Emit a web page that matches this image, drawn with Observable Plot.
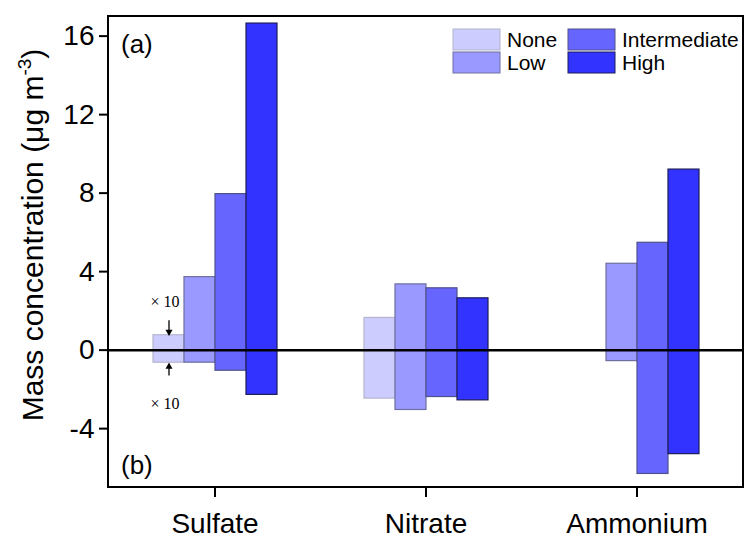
<!DOCTYPE html>
<html>
<head>
<meta charset="utf-8">
<script src="https://cdn.jsdelivr.net/npm/d3@7"></script>
<script src="https://cdn.jsdelivr.net/npm/@observablehq/plot@0.6"></script>
<style>
  html, body { margin: 0; padding: 0; background: white; }
  #chart svg [aria-label^="y-axis"] line, #chart svg [aria-label^="y-axis"] path,
  #chart svg [aria-label^="fx-axis"] line, #chart svg [aria-label^="fx-axis"] path { stroke-width: 2px; }
</style>
</head>
<body>
<div id="chart"></div>
<script>
// ---- data ----
const categories = ["Sulfate", "Nitrate", "Ammonium"];
const levels = ["None", "Low", "Intermediate", "High"];
// positive part (top of bar), per level, per category (None for Sulfate drawn ×10)
const posNone = [0.76, 1.64, 0];
const posLow = [3.72, 3.35, 4.40];
const posIntermediate = [7.95, 3.15, 5.47];
const posHigh = [16.64, 2.64, 9.20];
// negative part (bottom of bar)
const negNone = [-0.64, -2.47, 0];
const negLow = [-0.64, -3.05, -0.56];
const negIntermediate = [-1.05, -2.39, -6.31];
const negHigh = [-2.28, -2.56, -5.30];
const yTicks = [-4, 0, 4, 8, 12, 16];

const fills = ["#ccccff", "#9999ff", "#6666ff", "#3333ff"];
const strokes = ["#b4b4cc", "#6e6ea0", "#50508a", "#1c1c5a"];

const posArr = [posNone, posLow, posIntermediate, posHigh];
const negArr = [negNone, negLow, negIntermediate, negHigh];
const rows = [];
levels.forEach((lv, i) => categories.forEach((c, j) => {
  rows.push({cat: c, level: lv, pos: posArr[i][j], neg: negArr[i][j]});
}));

// "× 10" annotation for Sulfate / None
const notes = [
  {cat: "Sulfate", level: "None", y: 2.45, text: "× 10"},
  {cat: "Sulfate", level: "None", y: -2.75, text: "× 10"}
];
const arrowShafts = [
  {cat: "Sulfate", level: "None", y1: 1.5, y2: 0.93},
  {cat: "Sulfate", level: "None", y1: -1.32, y2: -0.84}
];
const arrowHeads = [
  {cat: "Sulfate", level: "None", y: 0.93, rot: 180},
  {cat: "Sulfate", level: "None", y: -0.84, rot: 0}
];

const W = 745, H = 540, mL = 108, mR = 2, mT = 16, mB = 53;

const plot = Plot.plot({
  width: W, height: H,
  marginLeft: mL, marginRight: mR, marginTop: mT, marginBottom: mB,
  style: {fontFamily: "'Liberation Sans', Arial, sans-serif", fontSize: "28px", background: "white", color: "black", overflow: "visible"},
  fx: {domain: categories, padding: 0, axis: "bottom", tickSize: 10, tickPadding: 16, label: null},
  x: {domain: levels, paddingInner: 0, paddingOuter: 1.31, axis: null},
  y: {domain: [-7, 17], ticks: yTicks, tickSize: 10, tickPadding: 5, tickFormat: d => String(d), label: null},
  marks: [
    ...levels.map((lv, i) => Plot.barY(rows.filter(r => r.level === lv && (r.pos !== 0 || r.neg !== 0)), {
      fx: "cat", x: "level", y1: "neg", y2: "pos",
      fill: fills[i], stroke: strokes[i], strokeWidth: 1.2
    })),
    Plot.ruleY([0], {stroke: "black", strokeWidth: 2.5}),
    Plot.ruleX(arrowShafts, {fx: "cat", x: "level", y1: "y1", y2: "y2", stroke: "black", strokeWidth: 1.3}),
    Plot.dot(arrowHeads, {fx: "cat", x: "level", y: "y", symbol: "triangle", r: 2.6, fill: "black", stroke: "none", rotate: "rot"}),
    Plot.text(notes, {fx: "cat", x: "level", y: "y", text: "text", fontFamily: "'Liberation Serif', 'Times New Roman', serif", fontSize: 16, dx: -4})
  ]
});

document.getElementById("chart").appendChild(plot);
const svg = d3.select(plot);

// frame
svg.append("rect")
  .attr("x", mL).attr("y", mT)
  .attr("width", W - mL - mR).attr("height", H - mT - mB)
  .attr("fill", "none").attr("stroke", "black").attr("stroke-width", 2);

// panel labels
svg.append("text").attr("x", 121).attr("y", 53).attr("font-size", 26).attr("text-anchor", "start").text("(a)");
svg.append("text").attr("x", 121).attr("y", 474).attr("font-size", 26).attr("text-anchor", "start").text("(b)");

// legend
const leg = svg.append("g").attr("font-size", 21).attr("text-anchor", "start");
levels.forEach((lv, i) => {
  const col = Math.floor(i / 2), row = i % 2;
  const x0 = col === 0 ? 453 : 568;
  const y0 = row === 0 ? 29 : 52;
  leg.append("rect").attr("x", x0).attr("y", y0).attr("width", 47).attr("height", 21)
    .attr("fill", fills[i]).attr("stroke", strokes[i]).attr("stroke-width", 1);
  leg.append("text").attr("x", x0 + 54).attr("y", y0 + 18).text(lv);
});

// y-axis title
const yt = svg.append("text")
  .attr("transform", "translate(43,235) rotate(-90)")
  .attr("text-anchor", "middle").attr("font-size", 30);
yt.append("tspan").text("Mass concentration (μg m");
yt.append("tspan").attr("font-size", 19).attr("dy", -12).text("-3");
yt.append("tspan").attr("dy", 12).text(")");
</script>
</body>
</html>
